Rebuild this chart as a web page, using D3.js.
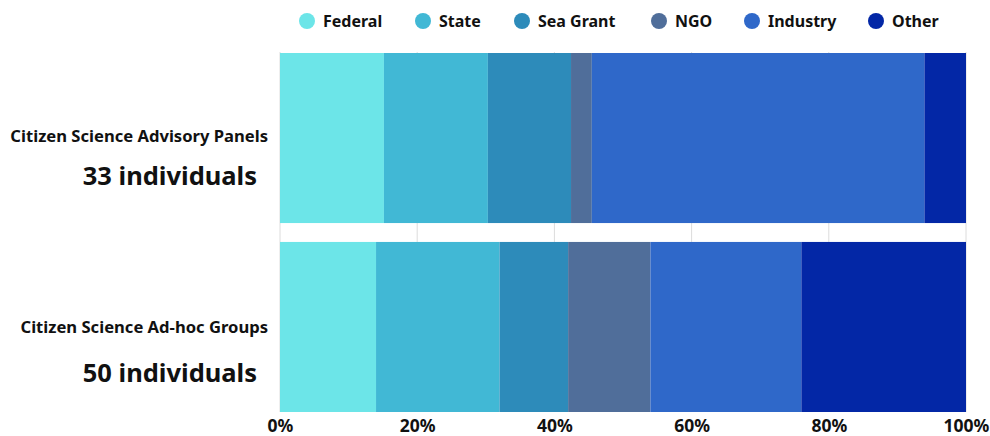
<!DOCTYPE html>
<html>
<head>
<meta charset="utf-8">
<script src="https://cdn.jsdelivr.net/npm/d3@7"></script>
<style>
  body { margin: 0; background: #fff; }
  text { font-family: "Noto Sans", sans-serif; font-weight: 700; fill: #111; }
</style>
</head>
<body>
<div id="chart"></div>
<script>
// data: number of individuals per sector in each group
const groups = ["Citizen Science Advisory Panels", "Citizen Science Ad-hoc Groups"];
const groupTotals = ["33 individuals", "50 individuals"];
const sectors = ["Federal", "State", "Sea Grant", "NGO", "Industry", "Other"];
const panelCounts = [5, 5, 4, 1, 16, 2];
const adhocCounts = [7, 9, 5, 6, 11, 12];
const colors = ["#6ce5e8", "#41b8d5", "#2d8bba", "#506e9a", "#2f68c9", "#0327a6"];
const ticks = [0, 0.2, 0.4, 0.6, 0.8, 1];

const width = 990, height = 436;
const margin = { top: 53, right: 24, bottom: 24, left: 280 };
const innerW = width - margin.left - margin.right;
const innerH = height - margin.top - margin.bottom;

const svg = d3.select("#chart").append("svg")
    .attr("width", width)
    .attr("height", height);

const g = svg.append("g")
    .attr("transform", `translate(${margin.left},${margin.top})`);

const x = d3.scaleLinear().domain([0, 1]).range([0, innerW]);
const y = d3.scaleBand().domain(groups).range([0, innerH]).paddingInner(0.1);

// build stacked rows as shares
const rows = [panelCounts, adhocCounts].map((counts, i) => {
    const total = d3.sum(counts);
    const row = { group: groups[i] };
    sectors.forEach((s, j) => row[s] = counts[j] / total);
    return row;
});
const stacked = d3.stack().keys(sectors)(rows);

// gridlines
g.selectAll(".grid")
    .data(ticks)
    .enter().append("line")
    .attr("class", "grid")
    .attr("x1", d => x(d)).attr("x2", d => x(d))
    .attr("y1", -1).attr("y2", innerH)
    .attr("stroke", "#dcdcdc")
    .attr("stroke-width", 1);

g.selectAll(".layer")
    .data(stacked)
    .enter().append("g")
    .attr("class", "layer")
    .attr("fill", (d, i) => colors[i])
    .selectAll("rect")
    .data(d => d)
    .enter().append("rect")
    .attr("x", d => x(d[0]))
    .attr("y", d => y(d.data.group))
    .attr("width", d => x(d[1]) - x(d[0]))
    .attr("height", y.bandwidth());

// x axis labels
const xAxis = g.append("g")
    .attr("transform", `translate(0,${innerH})`)
    .call(d3.axisBottom(x).tickValues(ticks).tickFormat(d3.format(".0%")).tickSize(0).tickPadding(8));
xAxis.select(".domain").remove();
xAxis.selectAll("text")
    .style("font-family", "'Noto Sans', sans-serif")
    .style("font-weight", 700)
    .style("font-size", "17.5px")
    .attr("fill", "#111");

// group labels
groups.forEach((name, i) => {
    const cy = margin.top + y(name);
    svg.append("text")
        .attr("x", 268)
        .attr("y", cy + (i === 0 ? 89 : 91))
        .attr("text-anchor", "end")
        .style("font-size", "16.6px")
        .text(name);
    svg.append("text")
        .attr("x", 257)
        .attr("y", cy + (i === 0 ? 132 : 140))
        .attr("text-anchor", "end")
        .style("font-size", "25.5px")
        .text(groupTotals[i]);
});

// legend
const legendX = [307, 423, 522, 659, 752, 876];
const legend = svg.selectAll(".legend")
    .data(sectors)
    .enter().append("g")
    .attr("class", "legend")
    .attr("transform", (d, i) => `translate(${legendX[i]},21)`);
legend.append("circle")
    .attr("r", 8)
    .attr("fill", (d, i) => colors[i]);
legend.append("text")
    .attr("x", 16)
    .attr("dy", "0.35em")
    .style("font-size", "16px")
    .text(d => d);
</script>
</body>
</html>
